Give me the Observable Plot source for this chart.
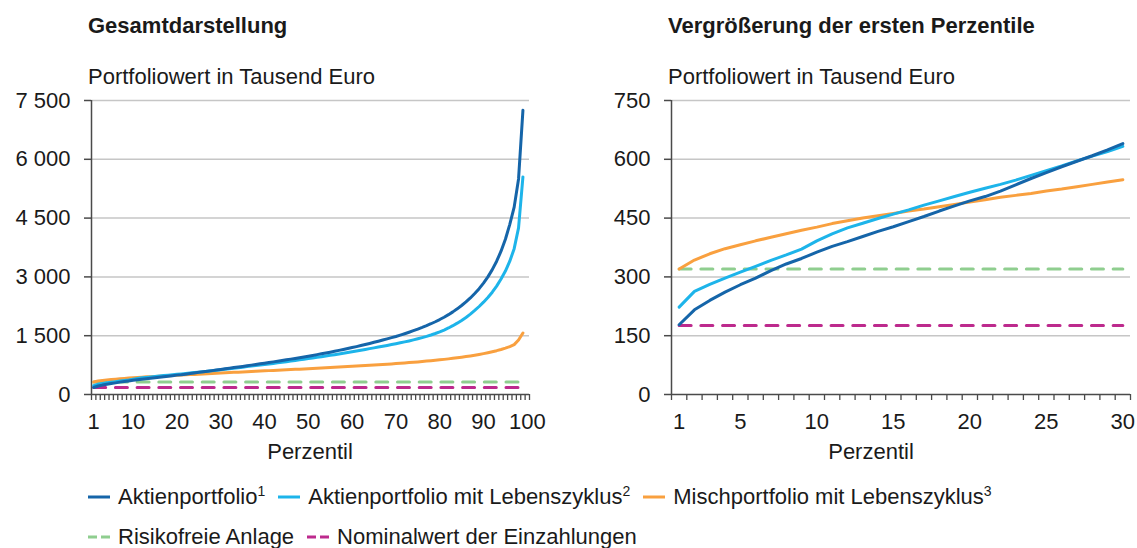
<!DOCTYPE html>
<html><head><meta charset="utf-8">
<script src="https://cdn.jsdelivr.net/npm/d3@7"></script>
<script src="https://cdn.jsdelivr.net/npm/@observablehq/plot@0.6"></script>
<style>
body{margin:0;background:#fff;}
#root{position:relative;width:1137px;height:548px;font-family:"Liberation Sans",Arial,sans-serif;color:#1a1a1a;overflow:hidden;background:#fff}
.t{position:absolute;white-space:nowrap;font-size:22px;line-height:22px}
.title{font-weight:bold;font-size:22px}
.plot{position:absolute;top:80px}
.legend{position:absolute;left:88px;display:flex;align-items:center;gap:13px;font-size:22px;line-height:22px;white-space:nowrap}
.item{display:flex;align-items:center;gap:8px}
sup{font-size:14px;vertical-align:8px;line-height:0}
</style></head><body><div id="root"></div><script>
// ---- data ----
const percentiles = [1,2,3,4,5,6,7,8,9,10,11,12,13,14,15,16,17,18,19,20,21,22,23,24,25,26,27,28,29,30,
31,32,33,34,35,36,37,38,39,40,41,42,43,44,45,46,47,48,49,50,51,52,53,54,55,56,57,58,59,60,
61,62,63,64,65,66,67,68,69,70,71,72,73,74,75,76,77,78,79,80,81,82,83,84,85,86,87,88,89,90,
91,92,93,94,95,96,97,98,99];
const aktien = [178,216,240,261,280,297,316,333,347,363,378,390,403,416,428,441,454,468,481,494,505,519,535,551,566,581,595,609,624,640,
655,670,686,701,717,733,749,765,782,798,815,832,849,866,884,902,920,939,958,977,
997,1017,1037,1058,1080,1102,1125,1148,1172,1197,1222,1248,1275,1303,1332,1360,1390,1420,1450,1480,
1515,1551,1589,1629,1670,1712,1757,1805,1856,1912,1972,2037,2108,2185,2270,2362,2463,2575,2700,2840,
3000,3185,3400,3655,3960,4340,4780,5500,7250];
const lebenszyklus = [223,263,281,297,312,327,342,356,371,392,410,425,437,449,460,471,483,494,505,516,526,536,547,559,571,583,596,608,620,633,
646,659,672,685,698,711,724,737,751,765,779,793,807,822,837,852,868,884,900,917,
933,949,965,982,999,1016,1034,1052,1071,1090,1110,1130,1150,1170,1190,1210,1231,1252,1273,1295,
1318,1342,1367,1393,1421,1451,1483,1518,1556,1598,1645,1697,1755,1820,1890,1966,2050,2145,2245,2355,
2475,2610,2765,2945,3150,3400,3720,4250,5550];
const misch = [320,343,359,372,382,392,401,410,419,427,436,443,450,456,462,468,473,479,485,491,497,503,508,513,519,524,530,536,542,548,
553,559,565,570,576,581,587,592,598,603,609,614,620,625,631,636,642,647,653,659,
664,670,676,682,688,694,700,706,712,718,725,731,738,745,752,759,766,773,781,789,
797,805,814,823,832,842,852,862,873,884,896,909,922,936,951,967,984,1002,1022,1043,
1066,1091,1118,1148,1182,1222,1272,1390,1570];
const risikofrei = [320];
const nominal = [176];

const seriesNames = ["Aktienportfolio", "Aktienportfolio mit Lebenszyklus", "Mischportfolio mit Lebenszyklus", "Risikofreie Anlage", "Nominalwert der Einzahlungen"];
const seriesNotes = ["1", "2", "3", "", ""];
const seriesColors = ["#1565a9", "#1db4ea", "#f9a03f", "#8fce8f", "#bd2a8d"];
const seriesDashed = [false, false, false, true, true];

const yTicksLeft = [0, 1500, 3000, 4500, 6000, 7500];
const yTicksRight = [0, 150, 300, 450, 600, 750];
const xLabelsLeft = [1, 10, 20, 30, 40, 50, 60, 70, 80, 90, 100];
const xLabelsRight = [1, 5, 10, 15, 20, 25, 30];
const categoriesLeft = 100;
const categoriesRight = 30;

const titleLeft = "Gesamtdarstellung";
const titleRight = "Vergrößerung der ersten Perzentile";
const yLabel = "Portfoliowert in Tausend Euro";
const xLabel = "Perzentil";

// ---- drawing ----
const root = document.getElementById("root");
const FONT = '"Liberation Sans", Arial, sans-serif';
const AX = "#4a4a4a";
const fmt = d => d3.format(",")(d).replace(/,/g, " ");

function chart(count, yTicks, xLabels, width, marginLeft, marginRight) {
  const ps = percentiles.filter(p => p <= count);
  const values = [aktien, lebenszyklus, misch, ps.map(() => risikofrei[0]), ps.map(() => nominal[0])];
  const bounds = d3.range(0.5, count + 1, 1);
  const lineMarks = [];
  const order = [3, 4, 2, 1, 0];
  for (const i of order) {
    const rows = ps.map((p, k) => ({p, v: values[i][k]}));
    lineMarks.push(Plot.line(rows, {
      x: "p", y: "v", stroke: seriesColors[i], strokeWidth: 3,
      strokeDasharray: seriesDashed[i] ? "12,9.7" : null
    }));
  }
  return Plot.plot({
    width, height: 400, marginLeft, marginRight, marginTop: 20, marginBottom: 86,
    x: {domain: [0.5, count + 0.5]},
    y: {domain: [0, yTicks[yTicks.length - 1]]},
    style: {fontFamily: FONT, fontSize: "22px", color: "#1a1a1a", background: "transparent", overflow: "visible"},
    marks: [
      Plot.gridY(yTicks.slice(1), {stroke: "#c6c6c6", strokeOpacity: 1, strokeWidth: 1.5}),
      Plot.axisY({ticks: yTicks, tickSize: 7, tickPadding: 14, tickFormat: fmt, stroke: AX, strokeWidth: 1.5, label: null}),
      Plot.axisX({ticks: bounds, tickSize: 6, tickFormat: () => "", stroke: AX, strokeWidth: 1.3, label: null}),
      Plot.axisX({ticks: xLabels, tickSize: 0, tickPadding: 19, label: null}),
      Plot.ruleY([0], {stroke: AX, strokeWidth: 1.5}),
      Plot.ruleX([0.5], {stroke: AX, strokeWidth: 1.5}),
      ...lineMarks
    ]
  });
}

function addText(txt, left, top, cls, center) {
  const d = document.createElement("div");
  d.className = "t " + (cls || "");
  d.textContent = txt;
  d.style.left = left + "px";
  d.style.top = top + "px";
  if (center) d.style.transform = "translateX(-50%)";
  root.appendChild(d);
}

const left = chart(categoriesLeft, yTicksLeft, xLabelsLeft, 560, 91, 31);
left.classList.add("plot");
left.style.left = "0px";
root.appendChild(left);

const right = chart(categoriesRight, yTicksRight, xLabelsRight, 557, 91, 7);
right.classList.add("plot");
right.style.left = "580px";
root.appendChild(right);

addText(titleLeft, 88, 15, "title");
addText(titleRight, 668, 15, "title");
addText(yLabel, 88, 66);
addText(yLabel, 668, 66);
addText(xLabel, 310, 441, "", true);
addText(xLabel, 871, 441, "", true);

function legendRow(indices, top) {
  const row = document.createElement("div");
  row.className = "legend";
  row.style.top = top + "px";
  for (const i of indices) {
    const item = document.createElement("div");
    item.className = "item";
    const sw = d3.create("svg").attr("width", 22).attr("height", 6);
    sw.append("line").attr("x1", 0).attr("x2", 22).attr("y1", 3).attr("y2", 3)
      .attr("stroke", seriesColors[i]).attr("stroke-width", 3)
      .attr("stroke-dasharray", seriesDashed[i] ? "9,4" : null);
    item.appendChild(sw.node());
    const label = document.createElement("span");
    label.textContent = seriesNames[i];
    if (seriesNotes[i]) {
      const s = document.createElement("sup");
      s.textContent = seriesNotes[i];
      label.appendChild(s);
    }
    item.appendChild(label);
    row.appendChild(item);
  }
  root.appendChild(row);
}
legendRow([0, 1, 2], 486);
legendRow([3, 4], 526);
</script></body></html>
